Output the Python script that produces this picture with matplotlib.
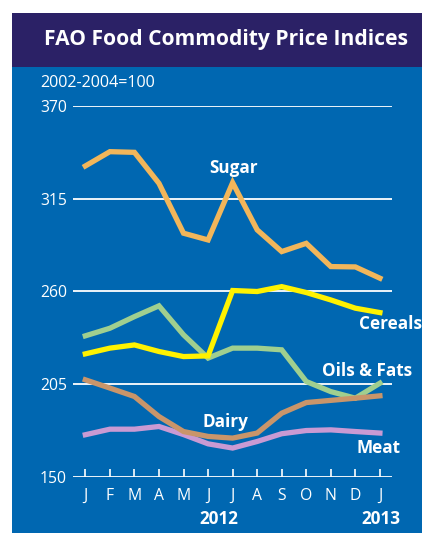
import matplotlib.pyplot as plt
from matplotlib.patches import Rectangle

# FAO food price sub-indices, Jan 2012 - Jan 2013 (2002-2004=100)
months = ['J', 'F', 'M', 'A', 'M', 'J', 'J', 'A', 'S', 'O', 'N', 'D', 'J']
sugar = [334.4, 342.9, 342.5, 324.1, 294.5, 290.5, 324.5, 296.5, 283.6, 288.5, 274.7, 274.5, 267.8]
cereals = [222.9, 226.3, 228.2, 224.3, 221.3, 221.7, 260.5, 259.9, 262.8, 259.3, 254.9, 250.0, 247.4]
oils = [233.6, 238.1, 245.0, 251.4, 234.2, 220.4, 226.3, 226.3, 225.3, 206.5, 200.5, 196.6, 205.5]
dairy = [207.5, 202.6, 197.6, 185.7, 176.8, 173.9, 172.9, 175.9, 187.7, 194.0, 195.3, 196.6, 198.0]
meat = [174.9, 178.2, 178.2, 179.8, 175.0, 169.5, 167.0, 170.9, 175.5, 177.4, 177.8, 176.8, 175.9]
yticks = [150, 205, 260, 315, 370]

BLUE = '#0067b1'
NAVY = '#2b2166'
FONT = 'Open Sans'

W, H = 422, 533
fig = plt.figure(figsize=(W / 100, H / 100), dpi=100)
fig.patch.set_facecolor('white')

# background panels
fig.add_artist(Rectangle((12 / W, 0), 1, 1 - 67 / H, transform=fig.transFigure,
                         facecolor=BLUE, edgecolor='none', zorder=0))
fig.add_artist(Rectangle((12 / W, 1 - 67 / H), 1, (67 - 13) / H, transform=fig.transFigure,
                         facecolor=NAVY, edgecolor='none', zorder=0))
fig.text(226 / W, 1 - 40 / H, 'FAO Food Commodity Price Indices', color='white',
         fontsize=15.1, fontweight='bold', family=FONT, ha='center', va='center')
fig.text(40 / W, 1 - 83 / H, '2002-2004=100', color='white', fontsize=11.6,
         family=FONT, ha='left', va='center')

ax = fig.add_axes([73.3 / W, 1 - 476.7 / H, 318.4 / W, 370.7 / H])
ax.set_facecolor('none')
x = list(range(len(months)))

for y in yticks:
    ax.axhline(y, color='white', lw=1.3, zorder=1)

ax.plot(x, sugar, color='#f2b65a', lw=3.8, solid_joinstyle='miter', zorder=3)
ax.plot(x, oils, color='#a0cf8f', lw=3.8, solid_joinstyle='miter', zorder=2)
ax.plot(x, cereals, color='#fff200', lw=3.8, solid_joinstyle='miter', zorder=4)
ax.plot(x, meat, color='#c99ad3', lw=3.8, solid_joinstyle='miter', zorder=2)
ax.plot(x, dairy, color='#c9956a', lw=3.8, solid_joinstyle='miter', zorder=3)

ax.set_xlim(-0.49, 12.48)
ax.set_ylim(150, 370)
for s in ax.spines.values():
    s.set_visible(False)
ax.set_xticks(x)
ax.set_xticklabels(months)
ax.set_yticks(yticks)
ax.tick_params(axis='x', direction='in', length=5.8, width=1.2, color='white',
               pad=8, labelcolor='white', labelsize=11.3)
ax.tick_params(axis='y', length=0, pad=4.5, labelcolor='white', labelsize=11.3)
for lab in ax.get_xticklabels() + ax.get_yticklabels():
    lab.set_family(FONT)

lbl = dict(color='white', fontsize=12.3, fontweight='bold', family=FONT, va='center')
ax.text(6.05, 333, 'Sugar', ha='center', **lbl)
ax.text(11.15, 240.5, 'Cereals', ha='left', **lbl)
ax.text(9.65, 212.5, 'Oils & Fats', ha='left', **lbl)
ax.text(5.7, 182.5, 'Dairy', ha='center', **lbl)
ax.text(11.05, 166.8, 'Meat', ha='left', **lbl)
ax.text(5.45, 125, '2012', ha='center', clip_on=False, **lbl)
ax.text(12.85, 125, '2013', ha='right', clip_on=False, **lbl)

fig.savefig('out.png', dpi=100)
